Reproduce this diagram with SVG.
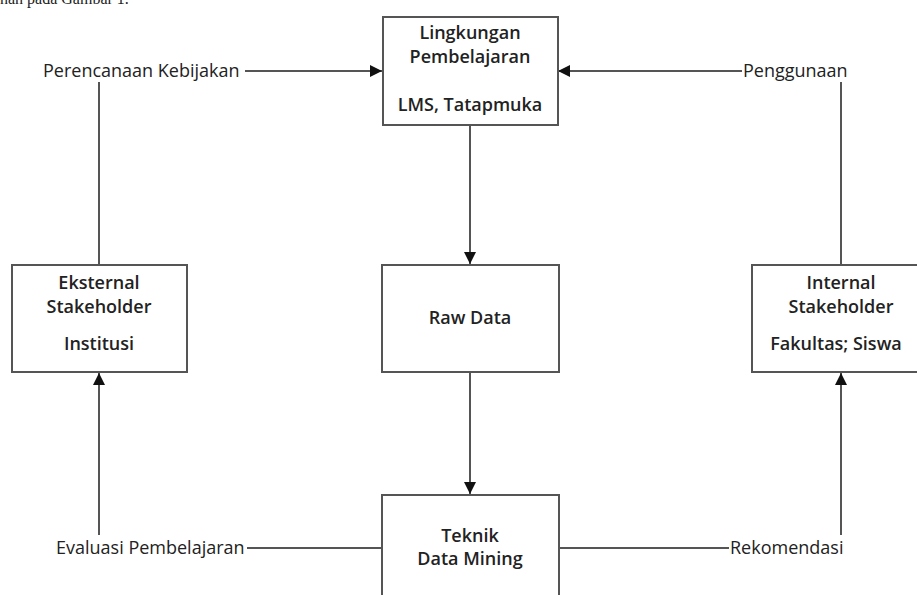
<svg xmlns="http://www.w3.org/2000/svg" width="917" height="595" viewBox="0 0 917 595">
<style>
.box{fill:#fff;stroke:#555;stroke-width:2}
.t{font-family:"Open Sans","Liberation Sans",sans-serif;font-size:18px;font-weight:600;fill:#222;text-anchor:middle}
.lbl{font-family:"Open Sans","Liberation Sans",sans-serif;font-size:18px;fill:#222}
.ln{fill:none;stroke:#555;stroke-width:2}
.ar{fill:none;stroke:#555;stroke-width:2;marker-end:url(#ah)}
</style>
<defs>
<marker id="ah" markerUnits="userSpaceOnUse" markerWidth="12" markerHeight="12" viewBox="0 0 12 12" refX="12" refY="6" orient="auto">
<path d="M0,0 L12,6 L0,12 Z" fill="#111"/>
</marker>
</defs>
<rect width="917" height="595" fill="#fff"/>
<text x="0" y="4" font-family="Liberation Serif,serif" font-size="16" fill="#222">nan pada Gambar 1.</text>
<g id="connectors">
<path class="ar" d="M245,71 H382"/>
<path class="ln" d="M99,82 V265"/>
<path class="ar" d="M742,71 H558"/>
<path class="ln" d="M841,82 V265"/>
<path class="ar" d="M470,125 V264"/>
<path class="ar" d="M470,372 V494"/>
<path class="ln" d="M247,548 H382"/>
<path class="ar" d="M99,535 V373"/>
<path class="ln" d="M559,548 H729"/>
<path class="ar" d="M841,535 V373"/>
</g>
<g id="lingkungan">
<rect class="box" x="383" y="17" width="175" height="108"/>
<text class="t" x="470" y="39">Lingkungan</text>
<text class="t" x="470" y="63">Pembelajaran</text>
<text class="t" x="470" y="111">LMS, Tatapmuka</text>
</g>
<g id="rawdata">
<rect class="box" x="382" y="265" width="177" height="107"/>
<text class="t" x="470" y="324">Raw Data</text>
</g>
<g id="teknik">
<rect class="box" x="382" y="495" width="177" height="110"/>
<text class="t" x="470" y="542">Teknik</text>
<text class="t" x="470" y="565">Data Mining</text>
</g>
<g id="eksternal">
<rect class="box" x="12" y="265" width="175" height="107"/>
<text class="t" x="99" y="289">Eksternal</text>
<text class="t" x="99" y="313">Stakeholder</text>
<text class="t" x="99" y="350">Institusi</text>
</g>
<g id="internal">
<rect class="box" x="752" y="265" width="180" height="107"/>
<text class="t" x="841" y="289">Internal</text>
<text class="t" x="841" y="313">Stakeholder</text>
<text class="t" x="836" y="350">Fakultas; Siswa</text>
</g>
<g id="labels">
<text class="lbl" x="43" y="77">Perencanaan Kebijakan</text>
<text class="lbl" x="743" y="77">Penggunaan</text>
<text class="lbl" x="56" y="554">Evaluasi Pembelajaran</text>
<text class="lbl" x="730" y="554">Rekomendasi</text>
</g>
</svg>
